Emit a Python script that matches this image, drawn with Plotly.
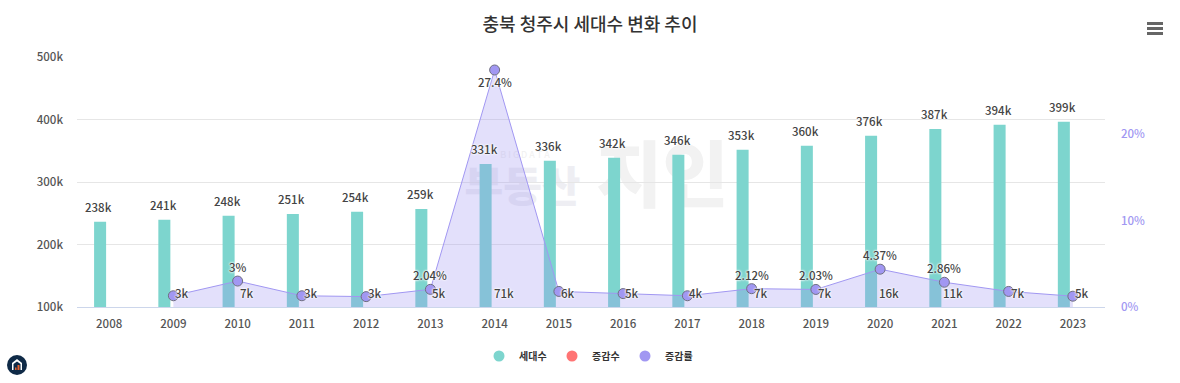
import plotly.graph_objects as go

years = ["2008","2009","2010","2011","2012","2013","2014","2015","2016","2017","2018","2019","2020","2021","2022","2023"]
households = [236500,239700,246000,249000,252500,257000,329000,334000,339000,343700,351700,358000,374000,385000,391700,396500]
household_labels = ["238k","241k","248k","251k","254k","259k","331k","336k","342k","346k","353k","360k","376k","387k","394k","399k"]
change = [None,3000,7000,3000,3000,5000,71000,6000,5000,4000,7000,7000,16000,11000,7000,5000]
change_labels = ["","3k","7k","3k","3k","5k","71k","6k","5k","4k","7k","7k","16k","11k","7k","5k"]
rate = [None,1.3,3.0,1.3,1.2,2.04,27.4,1.8,1.55,1.3,2.12,2.03,4.37,2.86,1.8,1.25]
rate_labels = ["","","3%","","","2.04%","27.4%","","","","2.12%","2.03%","4.37%","2.86%","",""]

FONT = "Noto Sans CJK KR"
SHADOW = "0 0 2px #fff, 0 0 2px #fff, 0 0 3px #fff"
TEAL = "#7dd5ce"
RED = "#ff7474"
PURPLE = "#a197f2"
W, H = 1180, 383

def px(x): return (x-77)/(W-77-75)
def py(y): return (307-y)/250

label_font = dict(size=11.5, color="#444", family=FONT, weight=500, shadow=SHADOW)

fig = go.Figure()
fig.add_bar(x=years, y=households, name="세대수", marker=dict(color=TEAL, line_width=0),
            width=0.187, offset=-0.234, yaxis="y", showlegend=False)
fig.add_bar(x=years, y=change, name="증감수", marker=dict(color=RED, line_width=0),
            width=0.187, offset=0.047, yaxis="y", showlegend=False)
fig.add_scatter(x=years, y=rate, name="증감률", mode="lines+markers", yaxis="y2",
                line=dict(color=PURPLE, width=1), fill="tozeroy", fillcolor="rgba(160,148,240,0.29)",
                marker=dict(color=PURPLE, size=10, line=dict(color="#6f6f80", width=1)),
                showlegend=False)
# legend entries with round symbols
for nm, col in [("세대수", TEAL), ("증감수", RED), ("증감률", PURPLE)]:
    fig.add_scatter(x=[None], y=[None], name=nm, mode="markers", yaxis="y",
                    marker=dict(color=col, size=11), showlegend=True)

ann = []
for i, t in enumerate(household_labels):
    ann.append(dict(x=i-0.16, y=households[i], xref="x", yref="y", yshift=15, text=t, showarrow=False, font=label_font))
for i, t in enumerate(change_labels):
    if t:
        ann.append(dict(x=i+0.14, y=100000, xref="x", yref="y", yshift=14, text=t, showarrow=False, font=label_font))
for i, t in enumerate(rate_labels):
    if t:
        ann.append(dict(x=i, y=rate[i], xref="x", yref="y2", yshift=-12 if rate[i] > 20 else 14, text=t,
                        showarrow=False, font=label_font))

shapes = []
# watermark, behind gridlines and marks
def mark(x0, x1, y0, y1, text, size, color, weight):
    shapes.append(dict(type="rect", layer="below", xref="paper", yref="paper", x0=px(x0), x1=px(x1),
                       y0=py(y1), y1=py(y0), line_width=0, fillcolor="rgba(0,0,0,0)",
                       label=dict(text=text, textposition="middle center",
                                  font=dict(size=size, color=color, family=FONT, weight=weight))))
mark(455, 590, 155, 225, "부동산", 42, "#eeeef3", 900)
mark(590, 735, 140, 222, "지인", 72, "#f2f2f2", 900)
mark(465, 585, 148, 162, "B I G D A T A", 9, "#f0f0f0", 400)

for yy in (23.5, 28.5, 33.5):
    shapes.append(dict(type="line", xref="paper", yref="paper", x0=px(1147), x1=px(1163), y0=py(yy), y1=py(yy),
                       line=dict(color="#666", width=3)))
# logo
shapes.append(dict(type="circle", xref="paper", yref="paper", x0=px(7), x1=px(27), y0=py(375), y1=py(355),
                   fillcolor="#0f2a47", line_width=0))
shapes.append(dict(type="path", xref="paper", yref="paper",
                   path=f"M {px(12)} {py(370)} L {px(12)} {py(363)} L {px(17)} {py(359)} L {px(22)} {py(363)} L {px(22)} {py(370)} L {px(20.5)} {py(370)} L {px(20.5)} {py(364)} L {px(17)} {py(361.5)} L {px(13.5)} {py(364)} L {px(13.5)} {py(370)} Z",
                   fillcolor="#fff", line_width=0))
shapes.append(dict(type="rect", xref="paper", yref="paper", x0=px(15), x1=px(16.5), y0=py(370), y1=py(367.5),
                   fillcolor="#e8602c", line_width=0))
shapes.append(dict(type="rect", xref="paper", yref="paper", x0=px(17.5), x1=px(19.5), y0=py(370), y1=py(365),
                   fillcolor="#e8602c", line_width=0))

tick = dict(size=11.5, color="#555", family=FONT, weight=500)
fig.update_layout(
    width=W, height=H, autosize=False,
    margin=dict(l=77, r=75, t=57, b=76, autoexpand=False),
    paper_bgcolor="#fff", plot_bgcolor="#fff", barmode="overlay",
    font=dict(family=FONT, color="#555", size=12),
    title=dict(text="충북 청주시 세대수 변화 추이", x=0.5, xanchor="center", y=1-25/H, yanchor="middle",
               font=dict(size=18, color="#333", family=FONT, weight=500)),
    xaxis=dict(type="category", categoryorder="array", categoryarray=years, range=[-0.5, 15.5],
               showgrid=False, showline=True, linecolor="#ccd6eb", linewidth=1, ticks="", zeroline=False,
               tickfont=tick, ticklabelstandoff=6),
    yaxis=dict(range=[100000, 500000], tickvals=[100000,200000,300000,400000,500000],
               ticktext=["100k","200k","300k","400k","500k"], gridcolor="#e6e6e6", gridwidth=1, zeroline=False,
               showline=False, tickfont=tick, ticklabelstandoff=13),
    yaxis2=dict(overlaying="y", side="right", range=[0, 28.9], tickvals=[0,10,20], ticktext=["0%","10%","20%"],
                showgrid=False, zeroline=False, showline=False,
                tickfont=dict(size=11.5, color=PURPLE, family=FONT, weight=500), ticklabelstandoff=15),
    legend=dict(orientation="h", x=px(479), y=py(356), xanchor="left", yanchor="middle", entrywidth=28,
                entrywidthmode="pixels", itemclick=False, font=dict(size=10, color="#333", family=FONT, weight=700),
                bgcolor="rgba(0,0,0,0)"),
    annotations=ann, shapes=shapes, hovermode=False,
)
fig.write_html("out.html", config={"displayModeBar": False},
               post_script="document.body.style.margin='0';document.body.style.overflow='hidden';")
